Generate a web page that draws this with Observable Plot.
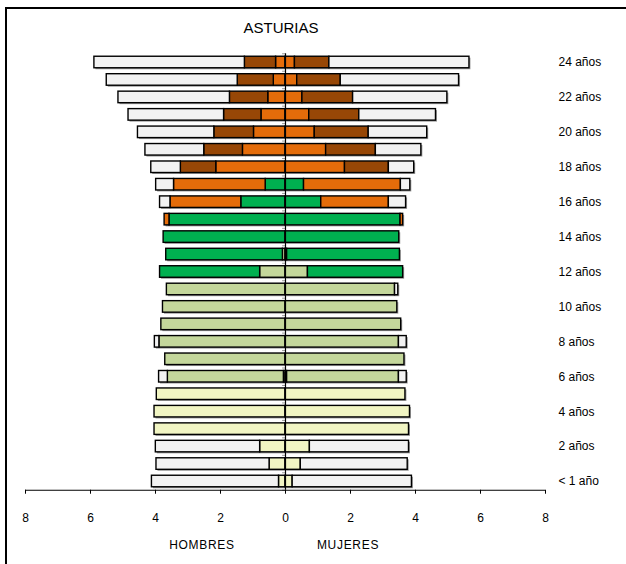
<!DOCTYPE html>
<html>
<head>
<meta charset="utf-8">
<script src="https://cdn.jsdelivr.net/npm/d3@7"></script>
<script src="https://cdn.jsdelivr.net/npm/@observablehq/plot@0.6"></script>
<style>
  html, body { margin: 0; padding: 0; background: #fff; overflow: hidden; }
  #wrap { position: relative; width: 626px; height: 564px; font-family: "Liberation Sans", Arial, sans-serif; }
  #border { position: absolute; left: 5px; top: 7px; width: 900px; height: 900px; border-left: 2px solid #000; border-top: 2px solid #000; }
  #chart { position: absolute; left: 0; top: 0; }
  .lbl { position: absolute; text-align: center; color: #000; white-space: nowrap; }
</style>
</head>
<body>
<div id="wrap">
  <div id="border"></div>
  <div id="chart"></div>
  <div class="lbl" style="left:0px; width:562px; top:20px; font-size:15px; line-height:15px;">ASTURIAS</div>
  <div class="lbl" style="left:102px; width:200px; top:539px; font-size:12px; line-height:12px; letter-spacing:0.7px;">HOMBRES</div>
  <div class="lbl" style="left:248px; width:200px; top:539px; font-size:12px; line-height:12px; letter-spacing:0.7px;">MUJERES</div>
</div>
<script>
// Ages (rows), bottom to top
const ages = [0,1,2,3,4,5,6,7,8,9,10,11,12,13,14,15,16,17,18,19,20,21,22,23,24];
const labelAges = [0,2,4,6,8,10,12,14,16,18,20,22,24];
const labelText = ["< 1 año","2 años","4 años","6 años","8 años","10 años","12 años","14 años","16 años","18 años","20 años","22 años","24 años"];
const xTicks = [-8,-6,-4,-2,0,2,4,6,8];

// Segment categories, from the centre outward
const categories = ["Infantil","Primaria","ESO","Bachillerato/FP","Universidad","No escolarizado"];
const colors = ["#F1F5C3","#C4D79B","#00B050","#E46C0A","#974706","#F2F2F2"];

// HOMBRES (thousands), age 0 -> 24
const hInfantil = [0.20,0.49,0.78,4.03,4.03,3.96,0.05,0,0,0,0,0,0,0,0,0,0,0,0,0,0,0,0,0,0];
const hPrimaria = [0,0,0,0,0,0,3.57,3.70,3.88,3.82,3.77,3.65,0.78,0.08,0,0,0,0,0,0,0,0,0,0,0];
const hESO      = [0,0,0,0,0,0,0,0,0,0,0,0,3.08,3.59,3.75,3.57,1.36,0.61,0,0,0,0,0,0,0];
const hBachFP   = [0,0,0,0,0,0,0,0,0,0,0,0,0,0,0,0.15,2.18,2.82,2.13,1.31,0.97,0.74,0.53,0.36,0.29];
const hUniv     = [0,0,0,0,0,0,0,0,0,0,0,0,0,0,0,0,0,0,1.09,1.19,1.22,1.15,1.18,1.11,0.96];
const hNoEsc    = [3.91,3.48,3.21,0,0,0,0.27,0,0.14,0,0,0,0,0,0,0,0.32,0.55,0.91,1.81,2.35,2.94,3.43,4.03,4.63];

// MUJERES (thousands), age 0 -> 24
const mInfantil = [0.22,0.47,0.75,3.80,3.83,3.69,0.05,0,0,0,0,0,0,0,0,0,0,0,0,0,0,0,0,0,0];
const mPrimaria = [0,0,0,0,0,0,3.44,3.66,3.49,3.56,3.44,3.37,0.69,0.05,0,0,0,0,0,0,0,0,0,0,0];
const mESO      = [0,0,0,0,0,0,0,0,0,0,0,0,2.93,3.47,3.50,3.54,1.10,0.57,0,0,0,0,0,0,0];
const mBachFP   = [0,0,0,0,0,0,0,0,0,0,0,0,0,0,0,0.08,2.08,2.98,1.83,1.25,0.90,0.73,0.52,0.36,0.29];
const mUniv     = [0,0,0,0,0,0,0,0,0,0,0,0,0,0,0,0,0,0,1.35,1.53,1.66,1.54,1.56,1.34,1.06];
const mNoEsc    = [3.67,3.29,3.05,0,0,0,0.24,0,0.24,0,0,0.10,0,0,0,0,0.53,0.29,0.78,1.40,1.80,2.36,2.90,3.64,4.31];

const hSeries = [hInfantil,hPrimaria,hESO,hBachFP,hUniv,hNoEsc];
const mSeries = [mInfantil,mPrimaria,mESO,mBachFP,mUniv,mNoEsc];

// Build stacked segment table
const segs = [];
const totals = [];
for (const [sign, series, sex] of [[-1, hSeries, "Hombres"], [1, mSeries, "Mujeres"]]) {
  ages.forEach((age, i) => {
    let acc = 0;
    series.forEach((arr, k) => {
      const v = arr[i];
      if (v > 0) {
        segs.push({sex, age, cat: categories[k], x1: sign * acc, x2: sign * (acc + v)});
      }
      acc += v;
    });
    totals.push({sex, age, x1: 0, x2: sign * acc});
  });
}
const halfBar = 0.33;
const boundaries = [-0.5, ...ages.map(a => a + 0.5)];

const plot = Plot.plot({
  width: 626,
  height: 564,
  marginLeft: 25,
  marginRight: 81,
  marginTop: 53.27,
  marginBottom: 74.27,
  style: {fontFamily: "'Liberation Sans', Arial, sans-serif", fontSize: "12px", color: "#000", background: "transparent"},
  x: {domain: [-8, 8]},
  y: {domain: [-0.5, 24.5]},
  color: {domain: categories, range: colors},
  marks: [
    Plot.rect(totals, {x1: "x1", x2: "x2", y1: d => d.age - halfBar, y2: d => d.age + halfBar, fill: "#9a9a9a", dx: 1.5, dy: 1.5}),
    Plot.rect(segs, {x1: "x1", x2: "x2", y1: d => d.age - halfBar, y2: d => d.age + halfBar, fill: "cat", stroke: "#000", strokeWidth: 1.4}),
    Plot.ruleY(boundaries, {x1: -0.09, x2: 0, stroke: "#999", strokeWidth: 1}),
    Plot.ruleX([0], {y1: -0.5, y2: 24.5, stroke: "#000", strokeWidth: 1.2}),
    Plot.ruleY([-0.5], {x1: -8, x2: 8, stroke: "#000", strokeWidth: 1.2}),
    Plot.axisX({ticks: xTicks, tickFormat: d => Math.abs(d), tickSize: 4, tickPadding: 19, label: null, fontSize: 12}),
    Plot.axisY({anchor: "right", ticks: labelAges, tickFormat: d => labelText[labelAges.indexOf(d)], tickSize: 0, tickPadding: 13, label: null, fontSize: 12})
  ]
});
document.getElementById("chart").appendChild(plot);
</script>
</body>
</html>
